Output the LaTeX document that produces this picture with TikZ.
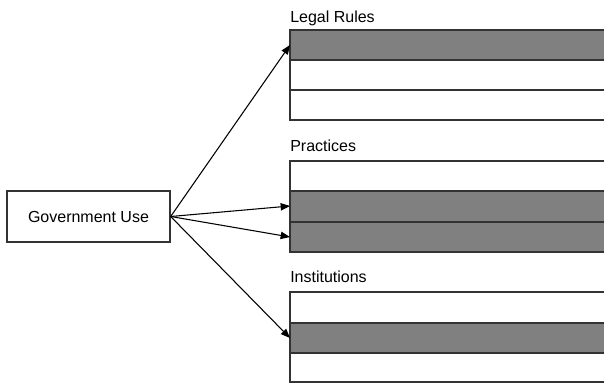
\documentclass[tikz,border=0pt]{standalone}
\usepackage{fontspec}
\setmainfont{Liberation Sans}
\usetikzlibrary{arrows.meta}
\definecolor{rowgray}{HTML}{808080}
\definecolor{linecol}{HTML}{333333}
\begin{document}
\begin{tikzpicture}[x=0.75pt,y=-0.75pt,
  rowbox/.style={draw=linecol,line width=1pt},
  label/.style={anchor=base west,inner sep=0pt,font=\fontsize{12}{14}\selectfont},
  arr/.style={draw=black,line width=0.8pt,-{Triangle[length=7pt,width=5.5pt]}}]
\useasboundingbox (0,0) rectangle (604,383);
\fill[white] (0,0) rectangle (604,383);
\begin{scope}
\clip (0,0) rectangle (604,383);
% Legal Rules
\node[label] (lrl) at (290,22) {Legal Rules};
\filldraw[rowbox,fill=rowgray] (290,30) rectangle (610,60);
\draw[rowbox,fill=white] (290,60) rectangle (610,90);
\draw[rowbox,fill=white] (290,90) rectangle (610,120);
\coordinate (lr1) at (290,45);
% Practices
\node[label] (prl) at (290,151) {Practices};
\draw[rowbox,fill=white] (290,161) rectangle (610,191);
\filldraw[rowbox,fill=rowgray] (290,191) rectangle (610,222);
\filldraw[rowbox,fill=rowgray] (290,222) rectangle (610,252);
\coordinate (pr2) at (290,206);
\coordinate (pr3) at (290,237);
% Institutions
\node[label] (inl) at (290,282) {Institutions};
\draw[rowbox,fill=white] (290,292) rectangle (610,323);
\filldraw[rowbox,fill=rowgray] (290,323) rectangle (610,353);
\draw[rowbox,fill=white] (290,353) rectangle (610,382);
\coordinate (in2) at (290,338);
\end{scope}
% Government Use
\node[draw=linecol,line width=1pt,minimum width=163*0.75pt,minimum height=51*0.75pt,inner sep=0pt,
  font=\fontsize{12}{14}\selectfont] (gov) at (88.5,216.5) {Government Use};
\draw[arr] (gov.east) -- (lr1);
\draw[arr] (gov.east) -- (pr2);
\draw[arr] (gov.east) -- (pr3);
\draw[arr] (gov.east) -- (in2);
\end{tikzpicture}
\end{document}
